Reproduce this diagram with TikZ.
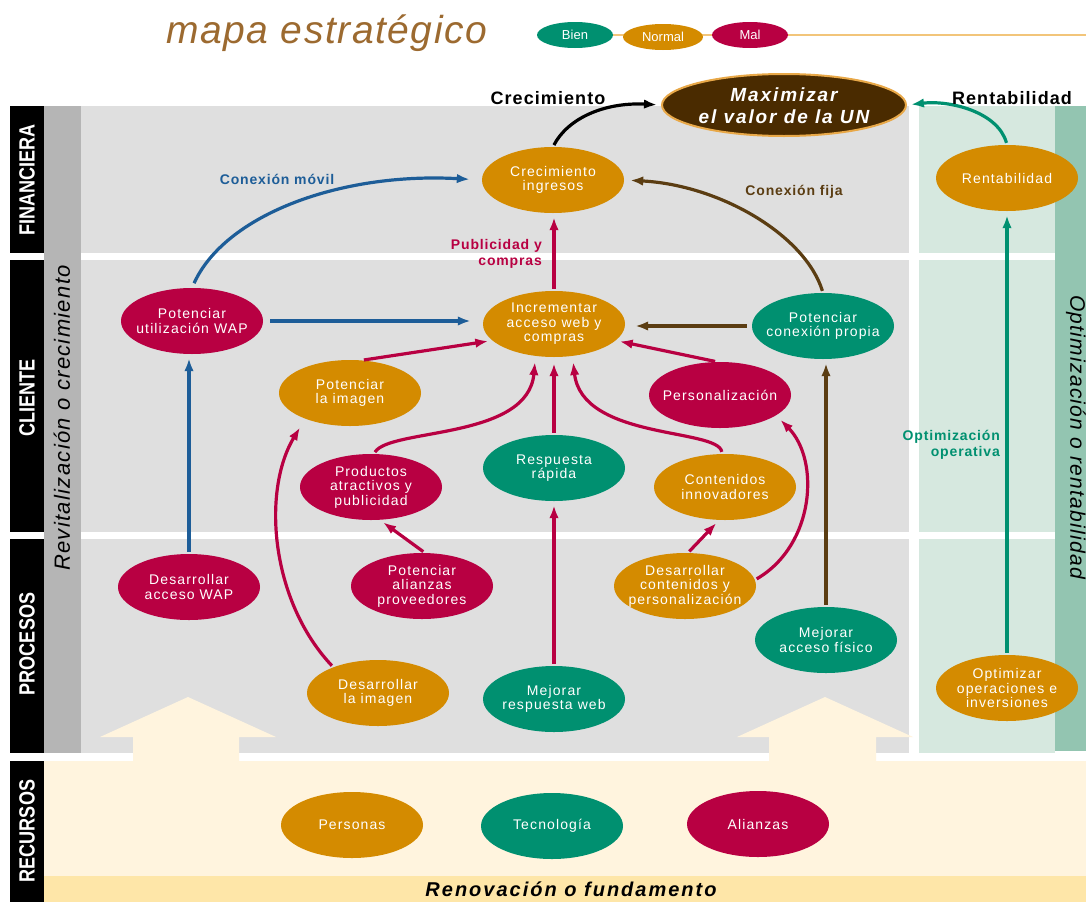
\documentclass[tikz,border=0pt]{standalone}
\usepackage{fontspec}
\setmainfont{Liberation Sans}
\newfontfamily\spaced{Liberation Sans}[LetterSpace=8]
\newfontfamily\spacedlight{Liberation Sans}[LetterSpace=6]
\newfontfamily\spacedwide{Liberation Sans}[LetterSpace=10]
\newfontfamily\titlefam{Liberation Sans}[LetterSpace=4]
\newfontfamily\tabfam{Liberation Sans}[FakeStretch=0.82]
\usetikzlibrary{shapes.geometric,arrows.meta}

% palette
\definecolor{cOrange}{HTML}{D48B00}
\definecolor{cCrimson}{HTML}{B80042}
\definecolor{cGreen}{HTML}{009070}
\definecolor{cBlue}{HTML}{1D5D98}
\definecolor{cBrown}{HTML}{5B3D12}
\definecolor{cDark}{HTML}{4A2B00}
\definecolor{cRim}{HTML}{E8A848}
\definecolor{cGray}{HTML}{DFDFDF}
\definecolor{cMid}{HTML}{B5B5B5}
\definecolor{cMint}{HTML}{D6E8DF}
\definecolor{cSea}{HTML}{93C5B1}
\definecolor{cCream}{HTML}{FFF4DE}
\definecolor{cSand}{HTML}{FEE6A8}
\definecolor{cTitle}{HTML}{9C6A30}
\definecolor{cLegend}{HTML}{F2C57A}

\tikzset{
  goal/.style={ellipse, minimum width=142pt, minimum height=66pt, inner sep=0pt},
  goaltxt/.style={align=center, text=white, inner sep=0pt,
    font=\spaced\fontsize{14}{14.5}\selectfont},
  link/.style={line width=3.2pt, -{Latex[length=13pt,width=9.5pt]},
    shorten >=4pt, shorten <=2pt},
  tag/.style={align=right, inner sep=0pt,
    font=\spacedlight\bfseries\fontsize{14}{15.5}\selectfont},
  tab/.style={text=white, inner sep=0pt, rotate=90,
    font=\tabfam\bfseries\fontsize{22}{22}\selectfont},
  legend/.style={ellipse, minimum width=76pt, minimum height=26pt, inner sep=0pt,
    text=white, font=\fontsize{13}{13}\selectfont},
}

% an objective: coloured ellipse plus its caption
\newcommand\goalnode[4]{%
  \node[goal, fill=#3] (#1) at (#2) {};
  \node[goaltxt] (#1-t) at (#1.center) {#4};}

\begin{document}
\begin{tikzpicture}[x=1pt, y=-1pt]
\useasboundingbox (0,0) rectangle (1086,902);
\clip (0,0) rectangle (1086,902);
\fill[white] (0,0) rectangle (1086,902);

% ---------- header ----------
\node[anchor=base west, inner sep=0pt, text=cTitle,
  font=\titlefam\itshape\fontsize{39}{41}\selectfont] (title) at (166,43) {mapa estratégico};
\coordinate (lg-end) at (1086,35);
\coordinate (lg-start) at (575,35);
\draw[cLegend, line width=2.5pt] (lg-start) -- (lg-end);
\node[legend, fill=cGreen] (lg-bien) at (575,35) {Bien};
\node[legend, fill=cOrange, minimum width=80pt] (lg-normal) at (663,37) {Normal};
\node[legend, fill=cCrimson] (lg-mal) at (750,35) {Mal};

% ---------- background bands ----------
% perspectives area (grey) and profitability area (mint)
\foreach \ya/\yb in {106/253, 260/532, 539/753}{
  \fill[cGray] (81,\ya) rectangle (909,\yb);
  \fill[cMint] (919,\ya) rectangle (1055,\yb);
}
\fill[cMid] (44,106) rectangle (81,753);
\fill[cSea] (1055,106) rectangle (1086,751);
% resources area
\fill[cCream] (44,761) rectangle (1086,902);
\fill[cSand] (44,876) rectangle (1086,902);
% perspective tabs
\fill[black] (10,106) rectangle (44,253);
\fill[black] (10,260) rectangle (44,532);
\fill[black] (10,539) rectangle (44,753);
\fill[black] (10,761) rectangle (44,902);
\node[tab] (tab-fin) at (27,180) {FINANCIERA};
\node[tab] (tab-cli) at (27,398) {CLIENTE};
\node[tab] (tab-pro) at (27,644) {PROCESOS};
\node[tab] (tab-rec) at (27,831) {RECURSOS};

\node[rotate=90, inner sep=0pt,
  font=\spacedlight\itshape\fontsize{22}{22}\selectfont] (axis-left) at (62,418) {Revitalización o crecimiento};
\node[rotate=-90, inner sep=0pt,
  font=\spacedlight\itshape\fontsize{21}{21}\selectfont] (axis-right) at (1076,437) {Optimización o rentabilidad};
\node[inner sep=0pt,
  font=\spacedwide\bfseries\itshape\fontsize{20}{20}\selectfont] (axis-bottom) at (571,889) {Renovación o fundamento};

% block arrows rising from the resources
\fill[cCream] (100,737) -- (188,697) -- (276,737) -- (239,737) -- (239,762)
  -- (133,762) -- (133,737) -- cycle;
\fill[cCream] (737,737) -- (825,697) -- (913,737) -- (876,737) -- (876,762)
  -- (769,762) -- (769,737) -- cycle;

% ---------- objectives ----------
\node[ellipse, fill=cDark, draw=cRim, line width=2pt, minimum width=244pt,
  minimum height=62pt, inner sep=0pt] (max) at (784,105) {};
\node[align=center, text=white, inner sep=0pt,
  font=\spacedwide\bfseries\itshape\fontsize{19}{22}\selectfont] (max-t) at (784,106) {Maximizar\\el valor de la UN};

\goalnode{ci}{553,180}{cOrange}{Crecimiento\\ingresos}
\goalnode{rent}{1007,178}{cOrange}{Rentabilidad}
\goalnode{puw}{192,321}{cCrimson}{Potenciar\\utilización WAP}
\goalnode{inc}{554,324}{cOrange}{Incrementar\\acceso web y\\compras}
\goalnode{pcp}{823,326}{cGreen}{Potenciar\\conexión propia}
\goalnode{pli}{350,393}{cOrange}{Potenciar\\la imagen}
\goalnode{per}{720,395}{cCrimson}{Personalización}
\goalnode{pap}{371,487}{cCrimson}{Productos\\atractivos y\\publicidad}
\goalnode{rr}{554,468}{cGreen}{Respuesta\\rápida}
\goalnode{cin}{725,487}{cOrange}{Contenidos\\innovadores}
\goalnode{daw}{189,587}{cCrimson}{Desarrollar\\acceso WAP}
\goalnode{pal}{422,586}{cCrimson}{Potenciar\\alianzas\\proveedores}
\goalnode{dcp}{685,586}{cOrange}{Desarrollar\\contenidos y\\personalización}
\goalnode{maf}{826,640}{cGreen}{Mejorar\\acceso físico}
\goalnode{dli}{378,693}{cOrange}{Desarrollar\\la imagen}
\goalnode{mrw}{554,699}{cGreen}{Mejorar\\respuesta web}
\goalnode{opt}{1007,688}{cOrange}{Optimizar\\operaciones e\\inversiones}

\goalnode{per-r}{352,825}{cOrange}{Personas}
\goalnode{tec-r}{552,826}{cGreen}{Tecnología}
\goalnode{ali-r}{758,824}{cCrimson}{Alianzas}

% ---------- connectors ----------
\draw[link, black] (ci.north) .. controls (568,118) and (605,102) .. (max.west);
\draw[link, cGreen] (rent.north) .. controls (998,112) and (950,100) .. (max.east);
\draw[link, cBlue, shorten <=5pt, shorten >=12pt] (puw.north) .. controls (225,215) and (340,172) .. (ci.west);
\draw[link, cBrown, shorten >=6pt] (pcp.north) .. controls (805,235) and (720,185) .. (ci.east);
\draw[link, cCrimson] (inc.north) -- (inc.north |- ci.south);

\draw[link, cBlue, shorten <=7pt, shorten >=12pt] (puw.east) -- (puw.east -| inc.west);
\draw[link, cBrown, shorten <=5pt, shorten >=10pt] (pcp.west) -- (pcp.west -| inc.east);
\draw[link, cCrimson] (pli.70) -- (inc.195);
\draw[link, cCrimson] (per.95) -- (inc.-15);
\draw[link, cCrimson, shorten >=6pt] (pap.85) .. controls (390,428) and (528,440) .. (inc.240);
\draw[link, cCrimson, shorten >=6pt] (rr.north) -- (rr.north |- inc.south);
\draw[link, cCrimson, shorten >=6pt] (cin.95) .. controls (718,428) and (582,440) .. (inc.300);

\draw[link, cBlue] (daw.north) -- (daw.north |- puw.south);
\draw[link, cCrimson] (pal.85) -- (pap.-75);
\draw[link, cCrimson] (mrw.north) -- (mrw.north |- rr.south);
\draw[link, cCrimson, shorten >=10pt] (dli.150) .. controls (270,600) and (262,490) .. (pli.210);
\draw[link, cCrimson] (dcp.85) -- (cin.-100);
\draw[link, cCrimson, shorten >=6pt] (dcp.5) .. controls (815,545) and (820,460) .. (per.-20);
\draw[link, cBrown] (maf.north) -- (maf.north |- pcp.south);
\draw[link, cGreen] (opt.north) -- (opt.north |- rent.south);

% ---------- connector captions ----------
\node[inner sep=0pt, font=\spacedlight\bfseries\fontsize{18}{18}\selectfont] (lbl-crec) at (548,98) {Crecimiento};
\node[inner sep=0pt, font=\spacedlight\bfseries\fontsize{18}{18}\selectfont] (lbl-rent) at (1012,98) {Rentabilidad};
\node[tag, text=cBlue] (lbl-movil) at (277,179) {Conexión móvil};
\node[tag, text=cBrown] (lbl-fija) at (794,192) {Conexión fija};
\node[tag, text=cCrimson, anchor=east] (lbl-pub) at (542,254) {Publicidad y\\compras};
\node[tag, text=cGreen, anchor=east] (lbl-opt) at (1000,445) {Optimización\\operativa};
\end{tikzpicture}
\end{document}
